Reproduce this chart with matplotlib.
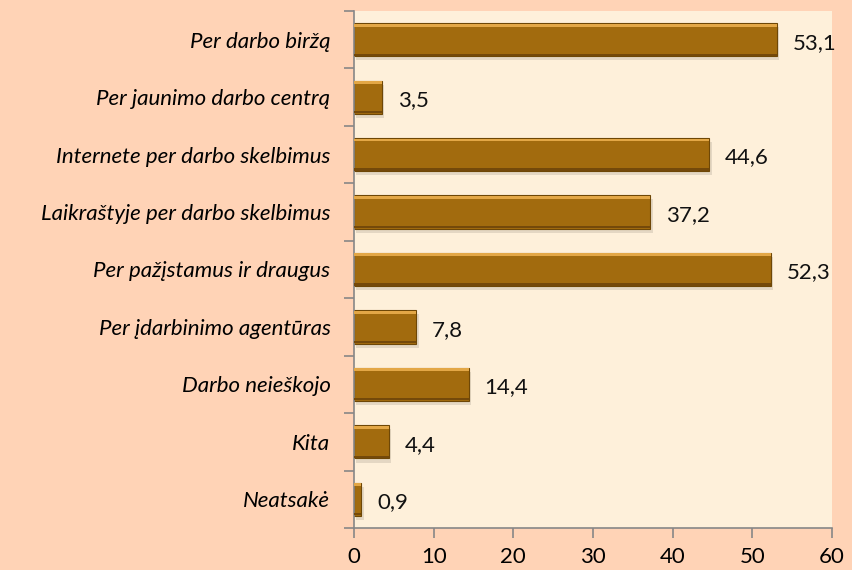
import matplotlib.pyplot as plt
import numpy as np

categories = [
  "Per darbo biržą",
  "Per jaunimo darbo centrą",
  "Internete per darbo skelbimus",
  "Laikraštyje per darbo skelbimus",
  "Per pažįstamus ir draugus",
  "Per įdarbinimo agentūras",
  "Darbo neieškojo",
  "Kita",
  "Neatsakė",
]
values = [53.1, 3.5, 44.6, 37.2, 52.3, 7.8, 14.4, 4.4, 0.9]
value_labels = ["53,1", "3,5", "44,6", "37,2", "52,3", "7,8", "14,4", "4,4", "0,9"]
x_ticks = [0, 10, 20, 30, 40, 50, 60]

plt.rcParams["font.family"] = ["Lato", "DejaVu Sans"]

fig = plt.figure(figsize=(8.52, 5.70), dpi=100, facecolor="#FFD3B6")
ax = fig.add_axes([354 / 852, 1 - 528 / 570, 478 / 852, 517 / 570])
ax.set_facecolor("#FEF0DA")

pos = np.arange(len(categories))
h = 0.58

# soft shadow
ax.barh(pos + 0.07, values, height=h, left=0.3, color="#000000", alpha=0.10, zorder=1)
# main bar
ax.barh(pos, values, height=h, color="#A26B0E", edgecolor="#6E4706", linewidth=0.8, zorder=2)
# bevel highlights
ax.barh(pos - h / 2 + 0.035, values, height=0.05, color="#E3A746", zorder=3)
ax.barh(pos + h / 2 - 0.03, values, height=0.04, color="#74490A", zorder=3)

for p, v, lab in zip(pos, values, value_labels):
  ax.text(v + 2.0, p + 0.05, lab, va="center", ha="left", fontsize=16, color="#111111", zorder=4)

ax.set_xlim(0, 60)
ax.set_ylim(len(categories) - 0.5, -0.5)
ax.set_xticks(x_ticks)
ax.set_xticklabels([str(t) for t in x_ticks], fontsize=16)
ax.set_yticks(pos)
ax.set_yticklabels(categories, fontsize=16, style="italic")
ax.tick_params(axis="y", length=0, pad=17)
ax.set_yticks(np.arange(len(categories) + 1) - 0.5, minor=True)
ax.tick_params(axis="y", which="minor", length=7, color="#878787", width=1.2)
ax.tick_params(axis="x", length=7, color="#878787", width=1.2, pad=7)

for side in ["top", "right"]:
  ax.spines[side].set_visible(False)
for side in ["left", "bottom"]:
  ax.spines[side].set_color("#878787")
  ax.spines[side].set_linewidth(1.2)

fig.savefig("out.png", dpi=100, facecolor=fig.get_facecolor())
